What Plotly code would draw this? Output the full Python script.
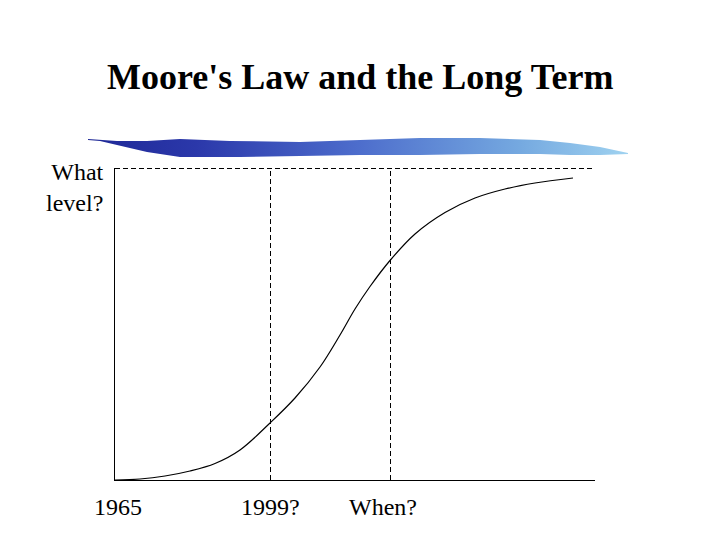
# Moore's Law S-curve sketch.
import plotly.graph_objects as go

# curve (x: time units from 1965, y: level units)
curve_x = [0, 25, 50, 75, 100, 125, 155, 180, 205, 225, 240, 255, 275, 300, 330, 360, 390, 420, 458]
curve_y = [0, 1, 4, 9, 16.5, 30, 57, 82, 113, 145, 171, 193.5, 219.5, 246, 267.5, 282, 291, 297, 302]

x_max = 480
y_max = 312
marker_x = [155, 275]  # "1999?" and "When?" guides
tick_x = [3, 155, 268]
tick_text = ["1965", "1999?", "When?"]

# decorative brush stroke under the title (page pixels)
stroke_x = [88, 100, 117, 147, 180, 230, 300, 360, 420, 480, 540, 570, 600, 628,
            628, 600, 570, 540, 480, 420, 360, 300, 240, 180, 147, 117, 100, 88]
stroke_y = [139, 140, 141, 141, 139, 141, 142, 140, 138, 138, 140, 143, 147, 153,
            154, 155, 155, 154, 154, 155, 155, 156, 157, 157, 152, 145, 141, 140]

OFF = 8  # page body margin: figure origin sits at (8, 8) in the window
W, H = 720 - OFF, 540 - OFF
L, R, T, B = 115 - OFF, 595 - OFF, 168 - OFF, 480 - OFF
HALF = 0.5  # 1 data unit == 1px here; nudge dashed guides onto pixel centres so they stay crisp
serif = "Liberation Serif, Times New Roman, serif"

fig = go.Figure()
fig.add_trace(go.Scatter(x=curve_x, y=curve_y, mode="lines", line=dict(color="black", width=1.2, shape="spline", smoothing=1.0),
                         hoverinfo="skip", showlegend=False))
fig.add_trace(go.Scatter(x=[v - OFF for v in stroke_x], y=[v - OFF for v in stroke_y], xaxis="x2", yaxis="y2",
                         mode="lines", fill="toself", line=dict(width=0, color="rgba(0,0,0,0)"),
                         fillgradient=dict(type="horizontal",
                                           colorscale=[[0, "#1e2896"], [0.2, "#2b38aa"], [0.5, "#4d6dcc"], [0.8, "#75a9e0"], [1, "#9fd2f0"]]),
                         hoverinfo="skip", showlegend=False))

dash = "5px,3px"
for xv in marker_x:
    fig.add_shape(type="line", x0=xv + HALF, x1=xv + HALF, y0=0, y1=y_max, xref="x", yref="y",
                  line=dict(color="black", width=1, dash=dash))
fig.add_shape(type="line", x0=0, x1=x_max, y0=y_max - HALF, y1=y_max - HALF, xref="x", yref="y",
              line=dict(color="black", width=1, dash=dash))

for xv, txt in zip(tick_x, tick_text):
    fig.add_annotation(x=xv, y=1 - (507 - OFF) / H, xref="x", yref="paper", text=txt, showarrow=False,
                       font=dict(family=serif, size=24, color="black"), xanchor="center", yanchor="middle")
fig.add_annotation(x=(106 - OFF) / W, y=1 - (187 - OFF) / H, xref="paper", yref="paper", text="What<br>level?", showarrow=False,
                   align="right", font=dict(family=serif, size=24, color="black"), xanchor="right", yanchor="middle")
fig.add_annotation(x=(360 - OFF) / W, y=1 - (77 - OFF) / H, xref="paper", yref="paper", text="<b>Moore's Law and the Long Term</b>",
                   showarrow=False, font=dict(family=serif, size=36, color="black"), xanchor="center", yanchor="middle")

fig.update_layout(
    width=W, height=H, autosize=False,
    margin=dict(l=0, r=0, t=0, b=0),
    paper_bgcolor="white", plot_bgcolor="rgba(0,0,0,0)",
    xaxis=dict(domain=[L / W, R / W], range=[0, x_max], showline=True, linecolor="black", linewidth=1,
               showgrid=False, zeroline=False, showticklabels=False, ticks=""),
    yaxis=dict(domain=[1 - B / H, 1 - T / H], range=[0, y_max], showline=True, linecolor="black", linewidth=1,
               showgrid=False, zeroline=False, showticklabels=False, ticks=""),
    xaxis2=dict(domain=[0, 1], range=[0, W], anchor="y2", visible=False),
    yaxis2=dict(domain=[0, 1], range=[H, 0], anchor="x2", visible=False),
    showlegend=False,
)

fig.write_html("out.html")
